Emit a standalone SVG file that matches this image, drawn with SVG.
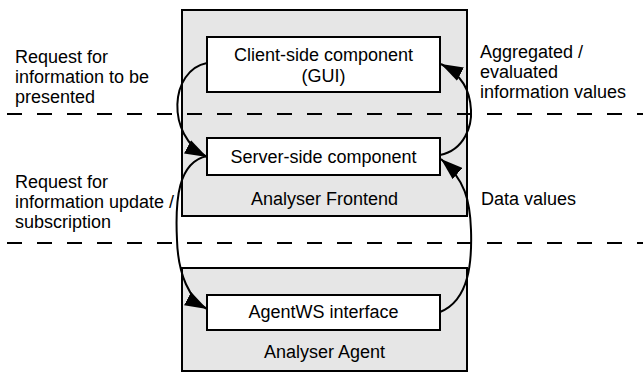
<svg xmlns="http://www.w3.org/2000/svg" width="643" height="373" viewBox="0 0 643 373">
<style>
text{font-family:"Liberation Sans",Arial,sans-serif;font-size:18px;fill:#000}
.c{text-anchor:middle}
.outer{fill:#e6e6e6;stroke:#000;stroke-width:2}
.inner{fill:#fff;stroke:#000;stroke-width:2}
.dash{stroke:#000;stroke-width:2;stroke-dasharray:15 15;fill:none}
.conn{fill:none;stroke:#000;stroke-width:2;marker-end:url(#ah)}
</style>
<defs>
<marker id="ah" markerUnits="userSpaceOnUse" markerWidth="22" markerHeight="15" refX="22" refY="7.5" viewBox="0 0 22 15" orient="auto">
<path d="M0,0 L22,7.5 L0,15 z" fill="#000"/>
</marker>
</defs>
<g id="frontend">
<rect class="outer" x="182" y="10" width="285" height="206"/>
<text class="c" x="324.5" y="205">Analyser Frontend</text>
</g>
<g id="agent">
<rect class="outer" x="182" y="268" width="285" height="103"/>
<text class="c" x="324.5" y="358">Analyser Agent</text>
</g>
<g id="client">
<rect class="inner" x="207" y="37" width="233" height="55"/>
<text class="c" x="323.5" y="61">Client-side component</text>
<text class="c" x="323.5" y="82">(GUI)</text>
</g>
<g id="server">
<rect class="inner" x="207" y="138" width="233" height="37"/>
<text class="c" x="323.5" y="163">Server-side component</text>
</g>
<g id="agentws">
<rect class="inner" x="207" y="295" width="233" height="35"/>
<text class="c" x="323.5" y="318">AgentWS interface</text>
</g>
<g id="dividers">
<line class="dash" x1="7" y1="114" x2="643" y2="114"/>
<line class="dash" x1="7" y1="243" x2="643" y2="243"/>
</g>
<g id="labels">
<text x="15" y="63">Request for</text>
<text x="15" y="83">information to be</text>
<text x="15" y="103">presented</text>
<text x="15" y="188">Request for</text>
<text x="15" y="208">information update /</text>
<text x="15" y="228">subscription</text>
<text x="480" y="58">Aggregated /</text>
<text x="480" y="78">evaluated</text>
<text x="480" y="98">information values</text>
<text x="481" y="205">Data values</text>
</g>
<g id="connectors">
<path class="conn" d="M207,63 C170,70 165,135 207,157"/>
<path class="conn" d="M207,156 C178,162 175,200 177,240 C178,275 190,300 207,309"/>
<path class="conn" d="M440,312 C470,300 472,260 471,230 C470,200 465,180 441,159"/>
<path class="conn" d="M440,155 C465,150 472,125 471,110 C470,90 462,75 441,64"/>
</g>
</svg>
